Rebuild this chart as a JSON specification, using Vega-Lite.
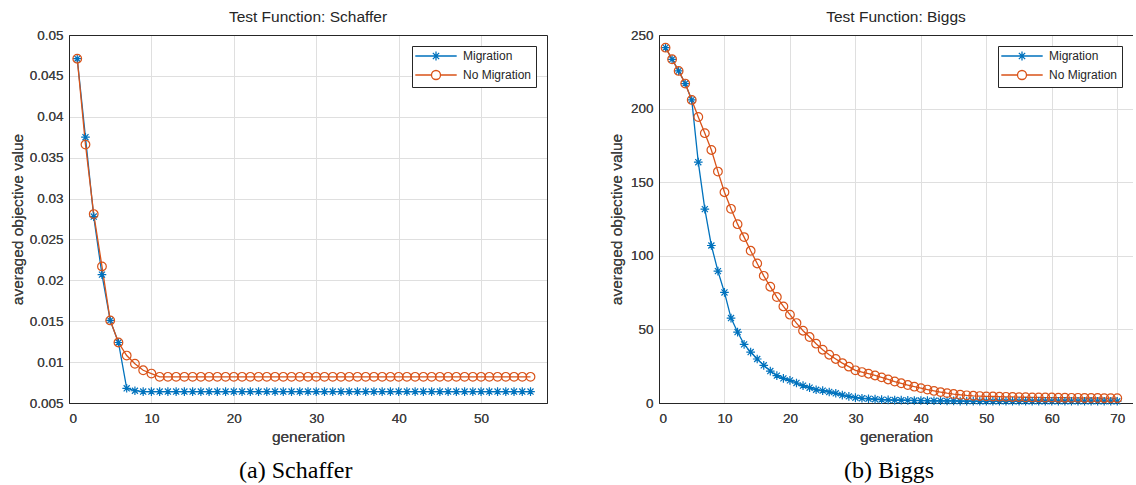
{
  "$schema": "https://vega.github.io/schema/vega-lite/v6.json",
  "background": "white",
  "padding": {"left": 10, "top": 9, "right": 0, "bottom": 0},
  "config": {
    "font": "Liberation Sans",
    "view": {"stroke": null},
    "axis": {"domain": true, "domainColor": "#262626", "domainWidth": 1, "ticks": false, "grid": true, "gridColor": "#dfdfdf", "gridWidth": 1, "labelFont": "Liberation Sans", "labelFontSize": 13.5, "labelColor": "#404040", "titleFont": "Liberation Sans", "titleFontSize": 15.5, "titleFontWeight": "normal", "titleColor": "#404040"},
    "axisX": {"labelPadding": 8, "titlePadding": 5},
    "axisY": {"labelPadding": 6, "titlePadding": 4},
    "legend": {"orient": "top-right", "offset": 11, "strokeColor": "#262626", "fillColor": "white", "padding": 4, "labelFont": "Liberation Sans", "labelFontSize": 12, "labelColor": "#262626", "symbolSize": 81, "symbolStrokeWidth": 1.3, "symbolOffset": 14, "labelOffset": 21, "rowPadding": 3, "cornerRadius": 0},
    "title": {"font": "Liberation Sans", "fontSize": 15.5, "fontWeight": "normal", "color": "#262626", "offset": 3}
  },
  "datasets": {
    "schaffer": [
      {"gen":1,"series":"Migration","value":0.0471},{"gen":2,"series":"Migration","value":0.0375},{"gen":3,"series":"Migration","value":0.0278},{"gen":4,"series":"Migration","value":0.0207},{"gen":5,"series":"Migration","value":0.0151},{"gen":6,"series":"Migration","value":0.0124},{"gen":7,"series":"Migration","value":0.0068},{"gen":8,"series":"Migration","value":0.0065},{"gen":9,"series":"Migration","value":0.0064},{"gen":10,"series":"Migration","value":0.0064},
      {"gen":11,"series":"Migration","value":0.0064},{"gen":12,"series":"Migration","value":0.0064},{"gen":13,"series":"Migration","value":0.0064},{"gen":14,"series":"Migration","value":0.0064},{"gen":15,"series":"Migration","value":0.0064},{"gen":16,"series":"Migration","value":0.0064},{"gen":17,"series":"Migration","value":0.0064},{"gen":18,"series":"Migration","value":0.0064},{"gen":19,"series":"Migration","value":0.0064},{"gen":20,"series":"Migration","value":0.0064},
      {"gen":21,"series":"Migration","value":0.0064},{"gen":22,"series":"Migration","value":0.0064},{"gen":23,"series":"Migration","value":0.0064},{"gen":24,"series":"Migration","value":0.0064},{"gen":25,"series":"Migration","value":0.0064},{"gen":26,"series":"Migration","value":0.0064},{"gen":27,"series":"Migration","value":0.0064},{"gen":28,"series":"Migration","value":0.0064},{"gen":29,"series":"Migration","value":0.0064},{"gen":30,"series":"Migration","value":0.0064},
      {"gen":31,"series":"Migration","value":0.0064},{"gen":32,"series":"Migration","value":0.0064},{"gen":33,"series":"Migration","value":0.0064},{"gen":34,"series":"Migration","value":0.0064},{"gen":35,"series":"Migration","value":0.0064},{"gen":36,"series":"Migration","value":0.0064},{"gen":37,"series":"Migration","value":0.0064},{"gen":38,"series":"Migration","value":0.0064},{"gen":39,"series":"Migration","value":0.0064},{"gen":40,"series":"Migration","value":0.0064},
      {"gen":41,"series":"Migration","value":0.0064},{"gen":42,"series":"Migration","value":0.0064},{"gen":43,"series":"Migration","value":0.0064},{"gen":44,"series":"Migration","value":0.0064},{"gen":45,"series":"Migration","value":0.0064},{"gen":46,"series":"Migration","value":0.0064},{"gen":47,"series":"Migration","value":0.0064},{"gen":48,"series":"Migration","value":0.0064},{"gen":49,"series":"Migration","value":0.0064},{"gen":50,"series":"Migration","value":0.0064},
      {"gen":51,"series":"Migration","value":0.0064},{"gen":52,"series":"Migration","value":0.0064},{"gen":53,"series":"Migration","value":0.0064},{"gen":54,"series":"Migration","value":0.0064},{"gen":55,"series":"Migration","value":0.0064},{"gen":56,"series":"Migration","value":0.0064},
      {"gen":1,"series":"No Migration","value":0.0471},{"gen":2,"series":"No Migration","value":0.0366},{"gen":3,"series":"No Migration","value":0.0281},{"gen":4,"series":"No Migration","value":0.0217},{"gen":5,"series":"No Migration","value":0.0151},{"gen":6,"series":"No Migration","value":0.0124},{"gen":7,"series":"No Migration","value":0.0108},{"gen":8,"series":"No Migration","value":0.0098},{"gen":9,"series":"No Migration","value":0.0090},{"gen":10,"series":"No Migration","value":0.0086},
      {"gen":11,"series":"No Migration","value":0.0082},{"gen":12,"series":"No Migration","value":0.0082},{"gen":13,"series":"No Migration","value":0.0082},{"gen":14,"series":"No Migration","value":0.0082},{"gen":15,"series":"No Migration","value":0.0082},{"gen":16,"series":"No Migration","value":0.0082},{"gen":17,"series":"No Migration","value":0.0082},{"gen":18,"series":"No Migration","value":0.0082},{"gen":19,"series":"No Migration","value":0.0082},{"gen":20,"series":"No Migration","value":0.0082},
      {"gen":21,"series":"No Migration","value":0.0082},{"gen":22,"series":"No Migration","value":0.0082},{"gen":23,"series":"No Migration","value":0.0082},{"gen":24,"series":"No Migration","value":0.0082},{"gen":25,"series":"No Migration","value":0.0082},{"gen":26,"series":"No Migration","value":0.0082},{"gen":27,"series":"No Migration","value":0.0082},{"gen":28,"series":"No Migration","value":0.0082},{"gen":29,"series":"No Migration","value":0.0082},{"gen":30,"series":"No Migration","value":0.0082},
      {"gen":31,"series":"No Migration","value":0.0082},{"gen":32,"series":"No Migration","value":0.0082},{"gen":33,"series":"No Migration","value":0.0082},{"gen":34,"series":"No Migration","value":0.0082},{"gen":35,"series":"No Migration","value":0.0082},{"gen":36,"series":"No Migration","value":0.0082},{"gen":37,"series":"No Migration","value":0.0082},{"gen":38,"series":"No Migration","value":0.0082},{"gen":39,"series":"No Migration","value":0.0082},{"gen":40,"series":"No Migration","value":0.0082},
      {"gen":41,"series":"No Migration","value":0.0082},{"gen":42,"series":"No Migration","value":0.0082},{"gen":43,"series":"No Migration","value":0.0082},{"gen":44,"series":"No Migration","value":0.0082},{"gen":45,"series":"No Migration","value":0.0082},{"gen":46,"series":"No Migration","value":0.0082},{"gen":47,"series":"No Migration","value":0.0082},{"gen":48,"series":"No Migration","value":0.0082},{"gen":49,"series":"No Migration","value":0.0082},{"gen":50,"series":"No Migration","value":0.0082},
      {"gen":51,"series":"No Migration","value":0.0082},{"gen":52,"series":"No Migration","value":0.0082},{"gen":53,"series":"No Migration","value":0.0082},{"gen":54,"series":"No Migration","value":0.0082},{"gen":55,"series":"No Migration","value":0.0082},{"gen":56,"series":"No Migration","value":0.0082}
    ],
    "biggs": [
      {"gen":1,"series":"Migration","value":241.4},{"gen":2,"series":"Migration","value":233.5},{"gen":3,"series":"Migration","value":225.6},{"gen":4,"series":"Migration","value":217.0},{"gen":5,"series":"Migration","value":205.9},{"gen":6,"series":"Migration","value":163.6},{"gen":7,"series":"Migration","value":131.7},{"gen":8,"series":"Migration","value":107.0},{"gen":9,"series":"Migration","value":89.6},{"gen":10,"series":"Migration","value":75.1},
      {"gen":11,"series":"Migration","value":57.7},{"gen":12,"series":"Migration","value":48.2},{"gen":13,"series":"Migration","value":39.8},{"gen":14,"series":"Migration","value":34.6},{"gen":15,"series":"Migration","value":29.9},{"gen":16,"series":"Migration","value":25.6},{"gen":17,"series":"Migration","value":21.7},{"gen":18,"series":"Migration","value":18.6},{"gen":19,"series":"Migration","value":16.7},{"gen":20,"series":"Migration","value":15.4},
      {"gen":21,"series":"Migration","value":13.6},{"gen":22,"series":"Migration","value":11.8},{"gen":23,"series":"Migration","value":10.4},{"gen":24,"series":"Migration","value":9.0},{"gen":25,"series":"Migration","value":8.4},{"gen":26,"series":"Migration","value":7.5},{"gen":27,"series":"Migration","value":6.6},{"gen":28,"series":"Migration","value":5.4},{"gen":29,"series":"Migration","value":4.5},{"gen":30,"series":"Migration","value":3.6},
      {"gen":31,"series":"Migration","value":3.2},{"gen":32,"series":"Migration","value":2.9},{"gen":33,"series":"Migration","value":2.6},{"gen":34,"series":"Migration","value":2.3},{"gen":35,"series":"Migration","value":2.1},{"gen":36,"series":"Migration","value":2.0},{"gen":37,"series":"Migration","value":1.9},{"gen":38,"series":"Migration","value":1.8},{"gen":39,"series":"Migration","value":1.7},{"gen":40,"series":"Migration","value":1.7},
      {"gen":41,"series":"Migration","value":1.6},{"gen":42,"series":"Migration","value":1.5},{"gen":43,"series":"Migration","value":1.5},{"gen":44,"series":"Migration","value":1.4},{"gen":45,"series":"Migration","value":1.4},{"gen":46,"series":"Migration","value":1.3},{"gen":47,"series":"Migration","value":1.3},{"gen":48,"series":"Migration","value":1.3},{"gen":49,"series":"Migration","value":1.2},{"gen":50,"series":"Migration","value":1.2},
      {"gen":51,"series":"Migration","value":1.2},{"gen":52,"series":"Migration","value":1.2},{"gen":53,"series":"Migration","value":1.2},{"gen":54,"series":"Migration","value":1.2},{"gen":55,"series":"Migration","value":1.2},{"gen":56,"series":"Migration","value":1.2},{"gen":57,"series":"Migration","value":1.2},{"gen":58,"series":"Migration","value":1.2},{"gen":59,"series":"Migration","value":1.2},{"gen":60,"series":"Migration","value":1.2},
      {"gen":61,"series":"Migration","value":1.2},{"gen":62,"series":"Migration","value":1.2},{"gen":63,"series":"Migration","value":1.2},{"gen":64,"series":"Migration","value":1.2},{"gen":65,"series":"Migration","value":1.2},{"gen":66,"series":"Migration","value":1.2},{"gen":67,"series":"Migration","value":1.2},{"gen":68,"series":"Migration","value":1.2},{"gen":69,"series":"Migration","value":1.2},{"gen":70,"series":"Migration","value":1.2},
      {"gen":1,"series":"No Migration","value":241.4},{"gen":2,"series":"No Migration","value":233.5},{"gen":3,"series":"No Migration","value":225.6},{"gen":4,"series":"No Migration","value":217.0},{"gen":5,"series":"No Migration","value":205.9},{"gen":6,"series":"No Migration","value":194.3},{"gen":7,"series":"No Migration","value":183.3},{"gen":8,"series":"No Migration","value":171.9},{"gen":9,"series":"No Migration","value":157.2},{"gen":10,"series":"No Migration","value":143.2},
      {"gen":11,"series":"No Migration","value":131.9},{"gen":12,"series":"No Migration","value":121.5},{"gen":13,"series":"No Migration","value":112.7},{"gen":14,"series":"No Migration","value":103.4},{"gen":15,"series":"No Migration","value":94.8},{"gen":16,"series":"No Migration","value":86.4},{"gen":17,"series":"No Migration","value":79.0},{"gen":18,"series":"No Migration","value":72.0},{"gen":19,"series":"No Migration","value":65.6},{"gen":20,"series":"No Migration","value":60.0},
      {"gen":21,"series":"No Migration","value":54.3},{"gen":22,"series":"No Migration","value":49.1},{"gen":23,"series":"No Migration","value":44.8},{"gen":24,"series":"No Migration","value":40.3},{"gen":25,"series":"No Migration","value":36.2},{"gen":26,"series":"No Migration","value":32.8},{"gen":27,"series":"No Migration","value":29.9},{"gen":28,"series":"No Migration","value":27.1},{"gen":29,"series":"No Migration","value":24.7},{"gen":30,"series":"No Migration","value":22.2},
      {"gen":31,"series":"No Migration","value":21.0},{"gen":32,"series":"No Migration","value":19.9},{"gen":33,"series":"No Migration","value":18.7},{"gen":34,"series":"No Migration","value":17.4},{"gen":35,"series":"No Migration","value":16.0},{"gen":36,"series":"No Migration","value":14.6},{"gen":37,"series":"No Migration","value":13.4},{"gen":38,"series":"No Migration","value":12.2},{"gen":39,"series":"No Migration","value":11.1},{"gen":40,"series":"No Migration","value":10.1},
      {"gen":41,"series":"No Migration","value":9.1},{"gen":42,"series":"No Migration","value":8.2},{"gen":43,"series":"No Migration","value":7.4},{"gen":44,"series":"No Migration","value":6.7},{"gen":45,"series":"No Migration","value":6.1},{"gen":46,"series":"No Migration","value":5.6},{"gen":47,"series":"No Migration","value":5.2},{"gen":48,"series":"No Migration","value":4.9},{"gen":49,"series":"No Migration","value":4.7},{"gen":50,"series":"No Migration","value":4.5},
      {"gen":51,"series":"No Migration","value":4.4},{"gen":52,"series":"No Migration","value":4.3},{"gen":53,"series":"No Migration","value":4.2},{"gen":54,"series":"No Migration","value":4.1},{"gen":55,"series":"No Migration","value":4.0},{"gen":56,"series":"No Migration","value":3.9},{"gen":57,"series":"No Migration","value":3.8},{"gen":58,"series":"No Migration","value":3.8},{"gen":59,"series":"No Migration","value":3.7},{"gen":60,"series":"No Migration","value":3.7},
      {"gen":61,"series":"No Migration","value":3.6},{"gen":62,"series":"No Migration","value":3.6},{"gen":63,"series":"No Migration","value":3.5},{"gen":64,"series":"No Migration","value":3.5},{"gen":65,"series":"No Migration","value":3.4},{"gen":66,"series":"No Migration","value":3.4},{"gen":67,"series":"No Migration","value":3.4},{"gen":68,"series":"No Migration","value":3.3},{"gen":69,"series":"No Migration","value":3.3},{"gen":70,"series":"No Migration","value":3.3}
    ]
  },
  "spacing": 62,
  "resolve": {"scale": {"x": "independent", "y": "independent", "color": "independent", "shape": "independent"}, "legend": {"color": "independent", "shape": "independent"}},
  "hconcat": [
    {
      "title": {"text": "(a) Schaffer", "orient": "bottom", "anchor": "start", "dx": 229, "font": "Liberation Serif", "fontSize": 24, "color": "black", "offset": 14},
      "resolve": {"scale": {"x": "independent", "y": "independent", "color": "independent", "shape": "independent"}, "legend": {"color": "independent", "shape": "independent"}},
      "vconcat": [
        {
          "title": "Test Function: Schaffer",
          "width": 478,
          "height": 368,
          "data": {"name": "schaffer"},
          "encoding": {
            "x": {"field": "gen", "type": "quantitative", "scale": {"domain": [0, 58], "nice": false}, "axis": {"values": [0, 10, 20, 30, 40, 50], "title": "generation"}},
            "y": {"field": "value", "type": "quantitative", "scale": {"domain": [0.005, 0.05], "nice": false, "zero": false}, "axis": {"values": [0.005, 0.01, 0.015, 0.02, 0.025, 0.03, 0.035, 0.04, 0.045, 0.05], "format": ".3~f", "title": "averaged objective value", "minExtent": 40, "maxExtent": 40}}
          },
          "resolve": {"scale": {"shape": "independent", "color": "independent"}, "legend": {"shape": "independent", "color": "independent"}, "axis": {"x": "independent", "y": "independent"}},
          "layer": [
            {"mark": {"type": "line", "strokeWidth": 1.3},
              "encoding": {"color": {"field": "series", "type": "nominal", "scale": {"domain": ["Migration", "No Migration"], "range": ["#0072BD", "#D95319"]}, "legend": null}}},
            {"mark": {"type": "point", "filled": false, "size": 75, "strokeWidth": 1.2, "opacity": 1},
              "encoding": {
                "x": {"field": "gen", "type": "quantitative", "axis": {"orient": "top", "labels": false, "grid": false, "title": null, "values": [0]}},
                "y": {"field": "value", "type": "quantitative", "axis": {"orient": "right", "labels": false, "grid": false, "title": null, "values": [0.01]}},
                "color": {"field": "series", "type": "nominal", "scale": {"domain": ["Migration", "No Migration"], "range": ["#0072BD", "#D95319"]}, "legend": null},
                "shape": {"field": "series", "type": "nominal", "scale": {"domain": ["Migration", "No Migration"], "range": ["M-1,0L1,0M0,-1L0,1M-0.7,-0.7L0.7,0.7M-0.7,0.7L0.7,-0.7", "circle"]}, "legend": null}}},
            {"transform": [{"filter": "datum.gen < 0"}],
              "mark": {"type": "point", "filled": false, "size": 81, "strokeWidth": 1.3, "opacity": 1},
              "encoding": {
                "color": {"field": "series", "type": "nominal", "scale": {"domain": ["Migration", "No Migration"], "range": ["#0072BD", "#D95319"]}, "legend": {"title": null}},
                "shape": {"field": "series", "type": "nominal", "scale": {"domain": ["Migration", "No Migration"], "range": ["M-4.6,0L4.6,0M0,-1L0,1M-0.7,-0.7L0.7,0.7M-0.7,0.7L0.7,-0.7", "M-4.6,0L-1,0M1,0L4.6,0M-1,0A1,1,0,1,0,1,0A1,1,0,1,0,-1,0"]}, "legend": {"title": null}}}}
          ]
        }
      ]
    },
    {
      "title": {"text": "(b) Biggs", "orient": "bottom", "anchor": "start", "dx": 235, "font": "Liberation Serif", "fontSize": 24, "color": "black", "offset": 14},
      "resolve": {"scale": {"x": "independent", "y": "independent", "color": "independent", "shape": "independent"}, "legend": {"color": "independent", "shape": "independent"}},
      "vconcat": [
        {
          "title": "Test Function: Biggs",
          "width": 474,
          "height": 368,
          "data": {"name": "biggs"},
          "encoding": {
            "x": {"field": "gen", "type": "quantitative", "scale": {"domain": [0, 72.4], "nice": false}, "axis": {"values": [0, 10, 20, 30, 40, 50, 60, 70], "title": "generation"}},
            "y": {"field": "value", "type": "quantitative", "scale": {"domain": [0, 250], "nice": false}, "axis": {"values": [0, 50, 100, 150, 200, 250], "title": "averaged objective value", "minExtent": 31, "maxExtent": 31}}
          },
          "resolve": {"scale": {"shape": "independent", "color": "independent"}, "legend": {"shape": "independent", "color": "independent"}, "axis": {"x": "independent", "y": "independent"}},
          "layer": [
            {"mark": {"type": "line", "strokeWidth": 1.3},
              "encoding": {"color": {"field": "series", "type": "nominal", "scale": {"domain": ["Migration", "No Migration"], "range": ["#0072BD", "#D95319"]}, "legend": null}}},
            {"mark": {"type": "point", "filled": false, "size": 75, "strokeWidth": 1.2, "opacity": 1},
              "encoding": {
                "x": {"field": "gen", "type": "quantitative", "axis": {"orient": "top", "labels": false, "grid": false, "title": null, "values": [0]}},
                "y": {"field": "value", "type": "quantitative", "axis": {"orient": "right", "labels": false, "grid": false, "title": null, "values": [0]}},
                "color": {"field": "series", "type": "nominal", "scale": {"domain": ["Migration", "No Migration"], "range": ["#0072BD", "#D95319"]}, "legend": null},
                "shape": {"field": "series", "type": "nominal", "scale": {"domain": ["Migration", "No Migration"], "range": ["M-1,0L1,0M0,-1L0,1M-0.7,-0.7L0.7,0.7M-0.7,0.7L0.7,-0.7", "circle"]}, "legend": null}}},
            {"transform": [{"filter": "datum.gen < 0"}],
              "mark": {"type": "point", "filled": false, "size": 81, "strokeWidth": 1.3, "opacity": 1},
              "encoding": {
                "color": {"field": "series", "type": "nominal", "scale": {"domain": ["Migration", "No Migration"], "range": ["#0072BD", "#D95319"]}, "legend": {"title": null}},
                "shape": {"field": "series", "type": "nominal", "scale": {"domain": ["Migration", "No Migration"], "range": ["M-4.6,0L4.6,0M0,-1L0,1M-0.7,-0.7L0.7,0.7M-0.7,0.7L0.7,-0.7", "M-4.6,0L-1,0M1,0L4.6,0M-1,0A1,1,0,1,0,1,0A1,1,0,1,0,-1,0"]}, "legend": {"title": null}}}}
          ]
        }
      ]
    }
  ]
}
